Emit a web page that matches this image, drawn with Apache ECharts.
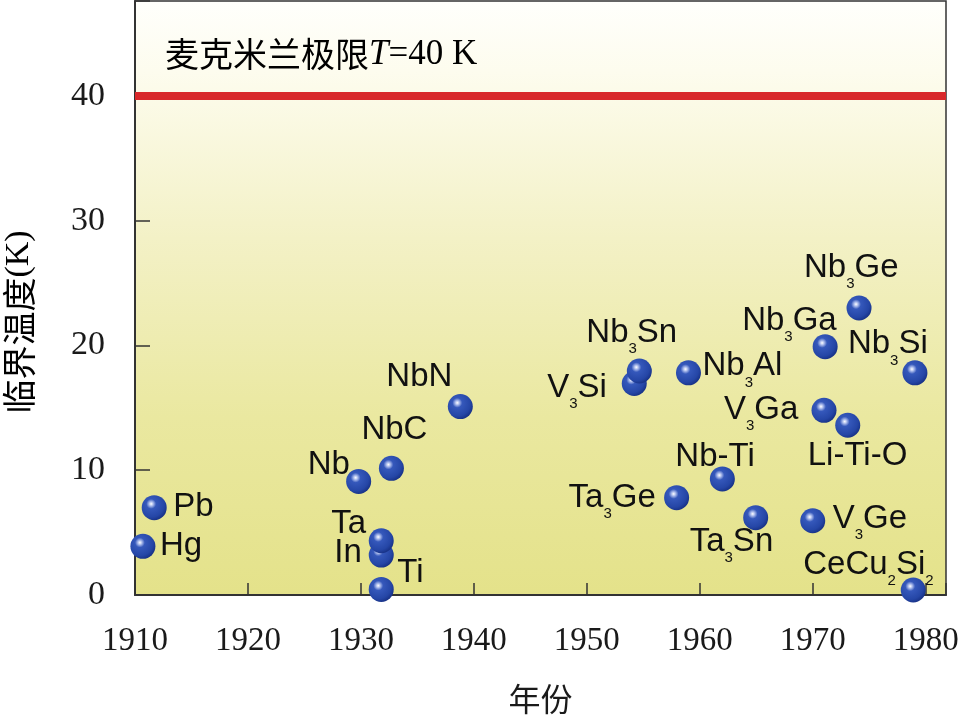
<!DOCTYPE html>
<html>
<head>
<meta charset="utf-8">
<script src="https://cdn.jsdelivr.net/npm/echarts@6/dist/echarts.min.js"></script>
<style>
html,body{margin:0;padding:0;background:#fff;}
#c{width:960px;height:719px;}
</style>
</head>
<body>
<div id="c"></div>
<script>
// ---- data ----
const names = ['Hg','Pb','Nb','NbC','NbN','In','Ta','Ti','V_3Si','Nb_3Sn','Nb_3Al','Ta_3Ge','Nb-Ti','Ta_3Sn','V_3Ge','V_3Ga','Nb_3Ga','Li-Ti-O','Nb_3Ge','Nb_3Si','CeCu_2Si_2'];
const years = [1910.7,1911.7,1929.8,1932.7,1938.8,1931.8,1931.8,1931.8,1954.2,1954.65,1959.0,1957.95,1962.0,1964.95,1970.0,1971.0,1971.1,1973.1,1974.1,1979.05,1978.9];
const tcK   = [3.9,7.0,9.1,10.15,15.1,3.2,4.35,0.45,16.95,17.95,17.8,7.8,9.3,6.2,5.95,14.8,19.9,13.6,23.0,17.8,0.4];
const mcMillanLimit = 40;
const xTicks = [1910,1920,1930,1940,1950,1960,1970,1980];
const yTicks = [0,10,20,30,40];

// ---- label placement (style, not data) ----
const labelOffsets = [[17,0],[19,0],[-51,-16],[-30,-38],[-74,-29],[-47,-2],[-50,-16],[16,-16],[-87,5],[-53,-38],[14,-6],[-108,1],[-47,-22],[-66,25],[20,-1],[-100,0],[-83,-25],[-40,31],[-55,-40],[-67,-28],[-110,-25]];

function richName(s){
  let out = '';
  const parts = s.split('_');
  out += '{n|' + parts[0] + '}';
  for (let i = 1; i < parts.length; i++) {
    const p = parts[i];
    out += '{s|' + p[0] + '}';
    if (p.length > 1) out += '{n|' + p.slice(1) + '}';
  }
  return out;
}

const ball = new echarts.graphic.RadialGradient(0.38, 0.35, 0.7, [
  {offset: 0, color: '#ffffff'},
  {offset: 0.1, color: '#b8c6f0'},
  {offset: 0.28, color: '#3558bb'},
  {offset: 0.75, color: '#2546a6'},
  {offset: 1, color: '#162f82'}
]);

const pts = years.map((y, i) => ({
  value: [y, tcK[i]],
  label: {
    offset: [labelOffsets[i][0], labelOffsets[i][1] - 17]
  }
}));

const chart = echarts.init(document.getElementById('c'), null, {renderer: 'canvas'});
chart.setOption({
  animation: false,
  grid: {
    left: 135, right: 14, top: 1, bottom: 124,
    outerBoundsMode: 'none',
    containLabel: false,
    show: true,
    borderColor: '#333', borderWidth: 1.5,
    backgroundColor: new echarts.graphic.LinearGradient(0, 0, 0, 1, [
      {offset: 0, color: '#fffffc'},
      {offset: 0.12, color: '#fdfcee'},
      {offset: 0.4, color: '#f3f1c6'},
      {offset: 0.7, color: '#eae8a0'},
      {offset: 1, color: '#e4e28a'}
    ])
  },
  xAxis: {
    type: 'value', min: 1910, max: 1981.8, interval: 10,
    name: '年份', nameLocation: 'middle', nameGap: 88,
    nameTextStyle: {fontFamily: 'Noto Sans CJK SC', fontSize: 32, color: '#1a1a1a'},
    axisLine: {show: true, lineStyle: {color: '#333', width: 2}},
    axisTick: {show: true, inside: true, length: 12, lineStyle: {color: '#333', width: 1.5}},
    splitLine: {show: false},
    axisLabel: {
      margin: 30, fontFamily: 'Liberation Serif', fontSize: 33, color: '#1a1a1a',
      formatter: v => xTicks.includes(v) ? String(v) : ''
    }
  },
  yAxis: {
    type: 'value', min: 0, max: 47.6, interval: 10,
    axisLine: {show: true, lineStyle: {color: '#333', width: 2}},
    axisTick: {show: true, inside: true, length: 15, lineStyle: {color: '#333', width: 1.5}},
    splitLine: {show: false},
    axisLabel: {
      margin: 30, fontFamily: 'Liberation Serif', fontSize: 34, color: '#1a1a1a',
      formatter: v => yTicks.includes(v) ? String(v) : ''
    }
  },
  graphic: [
    {
      type: 'text', left: 165, top: 37, z: 10,
      style: {
        text: '{c|麦克米兰极限}{t|T}{r|=40 K}',
        rich: {
          c: {fontFamily: 'Noto Sans CJK SC', fontSize: 34, color: '#1a1a1a'},
          t: {fontFamily: 'Liberation Serif', fontStyle: 'italic', fontSize: 35, color: '#1a1a1a'},
          r: {fontFamily: 'Liberation Serif', fontSize: 35, color: '#1a1a1a'}
        }
      }
    },
    {
      type: 'text', x: 19, y: 322, rotation: Math.PI / 2, z: 10,
      style: {
        text: '{c|临界温度}{r|(K)}',
        align: 'center', verticalAlign: 'middle',
        rich: {
          c: {fontFamily: 'Noto Sans CJK SC', fontSize: 34, color: '#1a1a1a'},
          r: {fontFamily: 'Liberation Serif', fontSize: 34, color: '#1a1a1a'}
        }
      }
    }
  ],
  series: [{
    type: 'scatter',
    symbol: 'circle',
    symbolSize: 25,
    data: pts,
    itemStyle: {color: ball, opacity: 1},
    label: {
      show: true,
      position: 'inside',
      align: 'left',
      verticalAlign: 'top',
      formatter: p => richName(names[p.dataIndex]),
      rich: {
        n: {fontFamily: 'Liberation Sans', fontSize: 33, color: '#111', lineHeight: 34, verticalAlign: 'top'},
        s: {fontFamily: 'Liberation Sans', fontSize: 15, color: '#111', padding: [25, 0, 0, 0], verticalAlign: 'top'}
      }
    },
    markLine: {
      silent: true,
      symbol: 'none',
      label: {show: false},
      lineStyle: {color: '#d8282a', width: 8, type: 'solid'},
      data: [{yAxis: mcMillanLimit}]
    }
  }]
});
</script>
</body>
</html>
